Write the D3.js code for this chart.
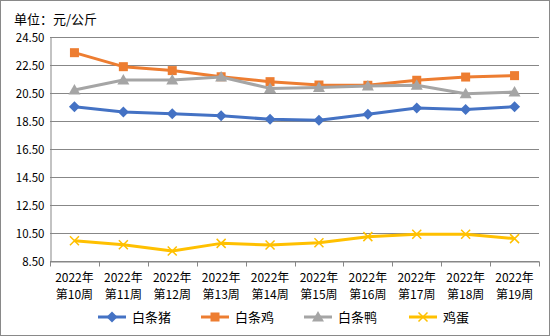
<!DOCTYPE html>
<html><head><meta charset="utf-8">
<script src="https://cdn.jsdelivr.net/npm/d3@7"></script>
<style>body{margin:0;background:#fff}svg{display:block}text{font-family:"Noto Sans CJK SC","DejaVu Sans",sans-serif;fill:#000}</style>
</head><body><svg id="c" width="550" height="336"></svg>
<script>
const categories = ["第10周","第11周","第12周","第13周","第14周","第15周","第16周","第17周","第18周","第19周"];
const yearLabel = "2022年";
const seriesNames = ["白条猪","白条鸡","白条鸭","鸡蛋"];
const pork = [19.52,19.14,19.02,18.88,18.62,18.55,18.98,19.43,19.33,19.52];
const chicken = [23.38,22.38,22.10,21.66,21.31,21.07,21.05,21.41,21.64,21.74];
const duck = [20.71,21.43,21.43,21.64,20.83,20.90,21.00,21.05,20.45,20.57];
const egg = [9.95,9.66,9.21,9.76,9.64,9.81,10.24,10.41,10.41,10.10];
const yTicks = [8.5,10.5,12.5,14.5,16.5,18.5,20.5,22.5,24.5];
const unitTitle = "单位：元/公斤";

const colors = ["#4472C4","#ED7D31","#A5A5A5","#FFC000"];
const markers = ["diamond","square","triangle","x"];
const data = [pork, chicken, duck, egg];

const svg = d3.select("#c");
svg.append("rect").attr("x",0.5).attr("y",0.5).attr("width",549).attr("height",335).attr("fill","#fff").attr("stroke","#898989");

const L=50,R=539,T=37,B=261;
const x = d3.scaleBand().domain(categories).range([L,R]);
const y = d3.scaleLinear().domain([8.5,24.5]).range([B,T]);

svg.append("text").attr("x",14).attr("y",24).attr("font-size",13).text(unitTitle);

// gridlines
svg.append("g").selectAll("line").data(yTicks).join("line")
  .attr("x1",L).attr("x2",R).attr("y1",d=>Math.round(y(d))+0.5).attr("y2",d=>Math.round(y(d))+0.5)
  .attr("stroke","#878787").attr("stroke-width",1);

// y axis
const ya = svg.append("g").attr("transform",`translate(${L+0.5},0)`)
  .call(d3.axisLeft(y).tickValues(yTicks).tickFormat(d3.format(".2f")).tickSize(0).tickPadding(6));
ya.select(".domain").attr("stroke","#878787");
ya.selectAll("text").attr("font-size",11.5).attr("font-family","DejaVu Sans").attr("dy","0.35em");

// x axis
const xa = svg.append("g").attr("transform",`translate(0,${B+0.5})`)
  .call(d3.axisBottom(x).tickSize(0).tickFormat(""));
xa.select(".domain").attr("stroke","#878787");
const bounds = categories.map(c=>x(c)).concat([R]);
xa.selectAll("line.tk").data(bounds).join("line").attr("class","tk")
  .attr("x1",d=>Math.round(d)+0.5).attr("x2",d=>Math.round(d)+0.5).attr("y1",0).attr("y2",5).attr("stroke","#878787");
const lbl = svg.append("g").selectAll("text").data(categories).join("text")
  .attr("text-anchor","middle").attr("font-size",12);
lbl.append("tspan").attr("x",d=>x(d)+x.bandwidth()/2).attr("y",282).text(yearLabel);
lbl.append("tspan").attr("x",d=>x(d)+x.bandwidth()/2).attr("y",299).text(d=>d);

function drawMarker(g, type, color, cx, cy){
  if(type==="diamond"){
    g.append("path").attr("d",`M${cx},${cy-5.5}L${cx+5.5},${cy}L${cx},${cy+5.5}L${cx-5.5},${cy}Z`).attr("fill",color);
  } else if(type==="square"){
    g.append("rect").attr("x",cx-4.5).attr("y",cy-4.5).attr("width",9).attr("height",9).attr("fill",color);
  } else if(type==="triangle"){
    g.append("path").attr("d",`M${cx},${cy-6}L${cx+6},${cy+4.5}L${cx-6},${cy+4.5}Z`).attr("fill",color);
  } else {
    g.append("path").attr("d",`M${cx-4.5},${cy-4.5}L${cx+4.5},${cy+4.5}M${cx+4.5},${cy-4.5}L${cx-4.5},${cy+4.5}`).attr("stroke",color).attr("stroke-width",1.5);
  }
}

const line = d3.line().x((d,i)=>x(categories[i])+x.bandwidth()/2).y(d=>y(d));
data.forEach((s,k)=>{
  const g = svg.append("g");
  g.append("path").datum(s).attr("d",line).attr("fill","none").attr("stroke",colors[k]).attr("stroke-width",3).attr("stroke-linejoin","round");
  s.forEach((v,i)=>drawMarker(g, markers[k], colors[k], x(categories[i])+x.bandwidth()/2, y(v)));
});

// legend
const legX = [98,201,304,409];
seriesNames.forEach((n,k)=>{
  const g = svg.append("g");
  g.append("line").attr("x1",legX[k]).attr("x2",legX[k]+28).attr("y1",317).attr("y2",317).attr("stroke",colors[k]).attr("stroke-width",3);
  drawMarker(g, markers[k], colors[k], legX[k]+14, 317);
  g.append("text").attr("x",legX[k]+34).attr("y",322).attr("font-size",13).text(n);
});
</script></body></html>
